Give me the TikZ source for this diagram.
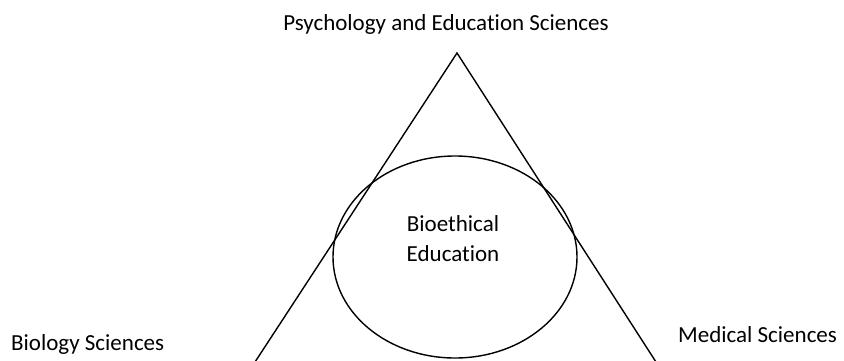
\documentclass[tikz,border=0pt]{standalone}
\usepackage{fontspec}
\setmainfont{Carlito}[Ligatures=NoCommon]
\usetikzlibrary{shapes.geometric}
\tikzset{
  lbl/.style={font={\fontsize{23bp}{30bp}\selectfont}, inner sep=0pt, text=black},
  edge/.style={line width=1.4bp, draw=black},
  circ/.style={ellipse, draw=black, line width=1.4bp, minimum width=244bp, minimum height=202bp, inner sep=0pt}
}
\begin{document}
\begin{tikzpicture}[x=1bp,y=-1bp]
\useasboundingbox (0,0) rectangle (844,360);
\coordinate (apex) at (457,53);
\coordinate (bl) at (255,362);
\coordinate (br) at (656,362);
\draw[edge] (bl) -- (apex) -- (br);
\node[circ] (ell) at (455,257) {};
\node[lbl, align=center, anchor=base] (bio) at (453,261) {Bioethical\\Education};
\node[lbl, anchor=base] (psy) at (446,30) {Psychology and Education Sciences};
\node[lbl, anchor=base west] (biol) at (11,350) {Biology Sciences};
\node[lbl, anchor=base west] (med) at (678,342) {Medical Sciences};
\end{tikzpicture}
\end{document}
